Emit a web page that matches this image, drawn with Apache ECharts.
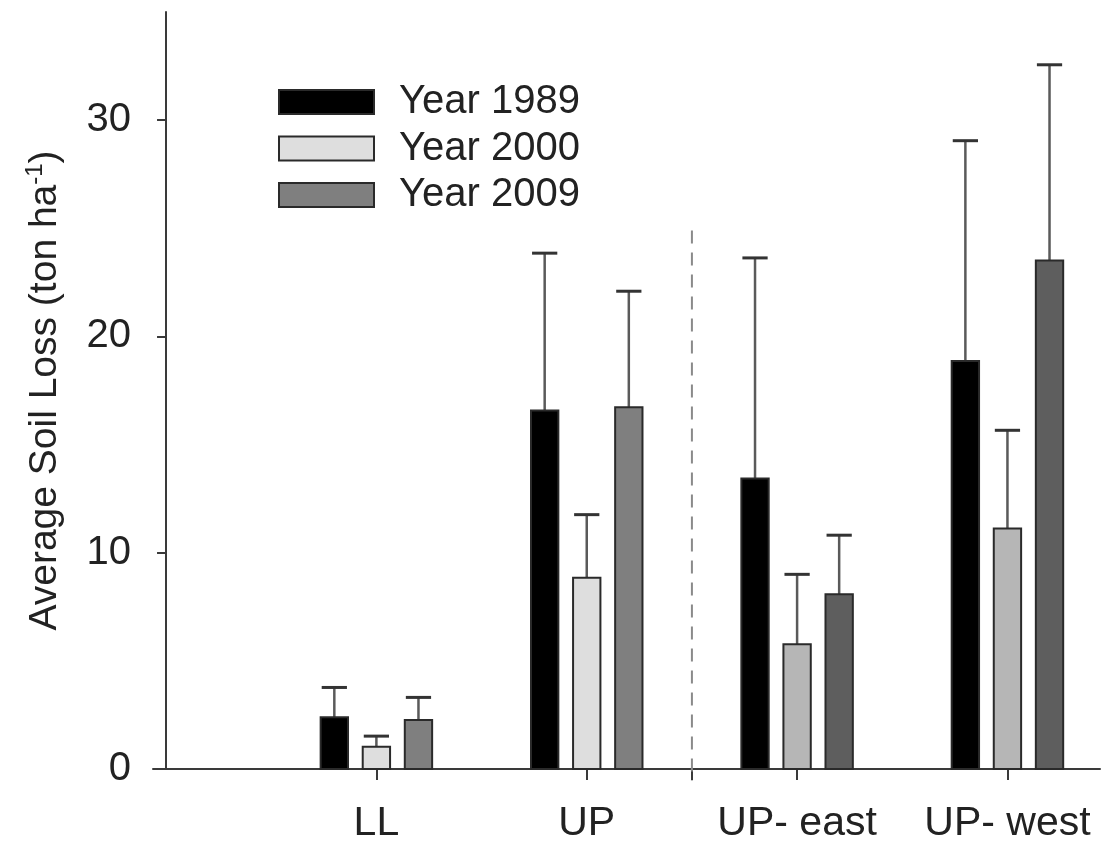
<!DOCTYPE html>
<html>
<head>
<meta charset="utf-8">
<script src="https://cdn.jsdelivr.net/npm/echarts@6/dist/echarts.min.js"></script>
<style>
  html, body { margin: 0; padding: 0; background: #ffffff; }
  #chart { width: 1104px; height: 843px; }
</style>
</head>
<body>
<div id="chart"></div>
<script>
// Sites along the x axis and the three survey years
const categories = ['LL', 'UP', 'UP- east', 'UP- west'];
const years = ['Year 1989', 'Year 2000', 'Year 2009'];

// Mean soil loss (ton/ha) and the upper error (one SD) per site
const mean1989 = [2.39, 16.58, 13.43, 18.86];
const err1989  = [1.38, 7.27, 10.20, 10.19];
const mean2000 = [1.03, 8.84, 5.77, 11.12];
const err2000  = [0.49, 2.92, 3.23, 4.54];
const mean2009 = [2.26, 16.73, 8.08, 23.51];
const err2009  = [1.05, 5.36, 2.73, 9.05];

// Value-axis ticks
const yTicks = [0, 10, 20, 30];
const xTicks = [1, 2, 2.5, 3, 4];
const xLabelAt = [1, 2, 3, 4];

// Dashed separator between the pooled UP and its sub-regions
const dividerAt = 2.5;
const dividerTop = 24.9;

// Fill colours per year and site
const fills = [
  ['#000000', '#000000', '#000000', '#000000'],
  ['#dedede', '#dedede', '#b6b6b6', '#b6b6b6'],
  ['#7f7f7f', '#7f7f7f', '#5e5e5e', '#5e5e5e']
];
const legendFills = ['#000000', '#dedede', '#7f7f7f'];
const slot = [-1, 0, 1];

const FONT = '"Liberation Sans", Arial, sans-serif';

function seriesData(means, errs) {
  return categories.map((c, i) => [i + 1, means[i], errs[i]]);
}

// Bar with an upper-only error whisker, placed in its slot within the site band
function barRenderer(s) {
  return function (params, api) {
    const x = api.value(0), m = api.value(1), e = api.value(2);
    const unit = api.size([1, 0])[0];
    const center = api.coord([x, 0]);
    const cx = center[0] + slot[s] * unit * 0.2;
    const w = unit * 0.13;
    const base = center[1];
    const top = api.coord([x, m])[1];
    const errTop = api.coord([x, m + e])[1];
    const cap = unit * 0.12;
    return {
      type: 'group',
      children: [
        { type: 'line', shape: { x1: cx, y1: top, x2: cx, y2: errTop },
          style: { stroke: '#5a5a5a', lineWidth: 2.5 } },
        { type: 'line', shape: { x1: cx - cap / 2, y1: errTop, x2: cx + cap / 2, y2: errTop },
          style: { stroke: '#333333', lineWidth: 3 } },
        { type: 'rect', shape: { x: cx - w / 2, y: top, width: w, height: base - top },
          style: { fill: fills[s][params.dataIndex], stroke: '#2a2a2a', lineWidth: 2 } }
      ]
    };
  };
}

function dividerRenderer(params, api) {
  const p1 = api.coord([api.value(0), api.value(1)]);
  const p0 = api.coord([api.value(0), 0]);
  return {
    type: 'line',
    shape: { x1: p1[0], y1: p1[1], x2: p0[0], y2: p0[1] + 12 },
    style: { stroke: '#8a8a8a', lineWidth: 2, lineDash: [13, 9] }
  };
}

const allMeans = [mean1989, mean2000, mean2009];
const allErrs = [err1989, err2000, err2009];

const chart = echarts.init(document.getElementById('chart'), null, { renderer: 'canvas' });

chart.setOption({
  animation: false,
  backgroundColor: '#ffffff',
  textStyle: { fontFamily: FONT },
  grid: {
    left: 153, top: 12, width: 947, height: 757,
    containLabel: false, outerBoundsMode: 'none'
  },
  legend: {
    orient: 'vertical',
    left: 278, top: 82, padding: 0,
    itemWidth: 95, itemHeight: 24, itemGap: 6.5,
    selectedMode: false,
    textStyle: { fontFamily: FONT, fontSize: 40, color: '#222222', lineHeight: 36, padding: [0, 0, 0, 20] },
    data: years.map((y, i) => ({
      name: y, icon: 'rect',
      itemStyle: { color: legendFills[i], borderColor: '#2a2a2a', borderWidth: 2 }
    }))
  },
  xAxis: {
    type: 'value',
    min: -0.062, max: 4.44,
    splitLine: { show: false },
    axisLine: { onZero: false, lineStyle: { color: '#3a3a3a', width: 2 } },
    axisTick: { customValues: xTicks, length: 11, inside: false, lineStyle: { color: '#3a3a3a', width: 2 } },
    axisLabel: {
      customValues: xLabelAt,
      margin: 34,
      fontFamily: FONT, fontSize: 41, color: '#222222',
      formatter: v => categories[Math.round(v) - 1] || ''
    }
  },
  yAxis: {
    type: 'value',
    min: 0, max: 35, interval: 10,
    splitLine: { show: false },
    axisLine: { onZero: true, lineStyle: { color: '#3a3a3a', width: 2 } },
    axisTick: { customValues: yTicks, length: 9, inside: false, lineStyle: { color: '#3a3a3a', width: 2 } },
    axisLabel: {
      customValues: yTicks, margin: 22,
      fontFamily: FONT, fontSize: 40, color: '#222222'
    },
    name: 'Average Soil Loss (ton ha{sup|-1})',
    nameLocation: 'middle',
    nameGap: 86,
    nameTextStyle: {
      fontFamily: FONT, fontSize: 39, color: '#222222', lineHeight: 44,
      rich: { sup: { fontFamily: FONT, fontSize: 24, color: '#222222', verticalAlign: 'top', lineHeight: 44 } }
    }
  },
  series: years.map((y, s) => ({
    name: y,
    type: 'custom',
    renderItem: barRenderer(s),
    itemStyle: { color: legendFills[s] },
    encode: { x: 0, y: 1 },
    data: seriesData(allMeans[s], allErrs[s])
  })).concat([{
    name: 'divider',
    type: 'custom',
    renderItem: dividerRenderer,
    silent: true,
    encode: { x: 0, y: 1 },
    data: [[dividerAt, dividerTop]]
  }])
});
</script>
</body>
</html>
